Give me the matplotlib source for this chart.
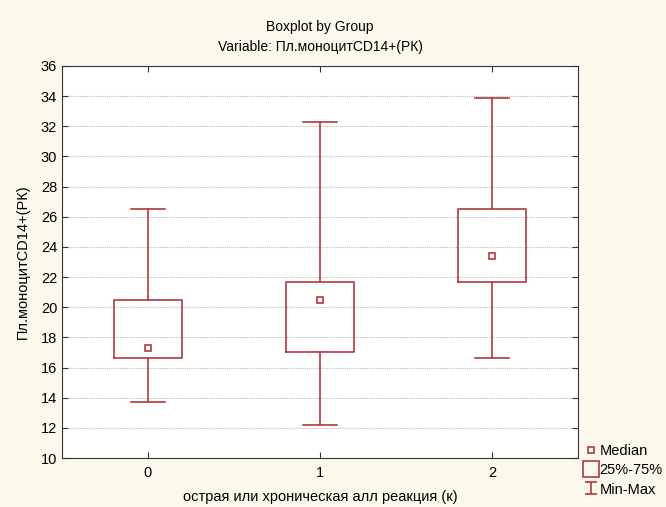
import matplotlib.pyplot as plt
from matplotlib.lines import Line2D
from matplotlib.path import Path

plt.rcParams['font.family'] = ['Liberation Sans', 'DejaVu Sans']

# Values
groups = ['0', '1', '2']
mins = [13.7, 12.2, 16.6]
q1s = [16.6, 17.0, 21.7]
medians = [17.3, 20.5, 23.4]
q3s = [20.5, 21.7, 26.5]
maxs = [26.5, 32.3, 33.9]

red = '#B03A3E'
bg = '#FCF8EC'

fig = plt.figure(figsize=(6.66, 5.07), dpi=100, facecolor=bg)
ax = fig.add_axes([62 / 666, 49 / 507, 516 / 666, 392 / 507])
ax.set_facecolor('white')

stats = []
for i in range(len(groups)):
    stats.append({'med': medians[i], 'q1': q1s[i], 'q3': q3s[i],
                  'whislo': mins[i], 'whishi': maxs[i], 'label': groups[i]})

positions = list(range(len(groups)))
ax.bxp(stats, positions=positions, widths=0.4, capwidths=0.2, showfliers=False,
       boxprops=dict(color=red, linewidth=1.2),
       whiskerprops=dict(color=red, linewidth=1.2),
       capprops=dict(color=red, linewidth=1.2),
       medianprops=dict(linewidth=0))
ax.plot(positions, medians, linestyle='none', marker='s', ms=5,
        mfc='white', mec=red, mew=1.2, zorder=5)

ax.set_xlim(-0.5, 2.5)
ax.set_ylim(10, 36)
ax.set_yticks(range(10, 37, 2))
ax.set_xticks(positions)
ax.set_xticklabels(groups)
ax.yaxis.grid(True, linestyle=(0, (1, 1)), color='#BBBBBB', linewidth=0.8)
ax.set_axisbelow(True)
ax.tick_params(direction='in', top=True, right=True, labelsize=10.5, length=4,
               color='#333333')
ax.tick_params(axis='x', pad=6)
for sp in ax.spines.values():
    sp.set_color('#333333')

ax.set_xlabel('острая или хроническая алл реакция (к)', fontsize=10.5, labelpad=7)
ax.set_ylabel('Пл.моноцитCD14+(РК)', fontsize=10.5, labelpad=8)
fig.text(320 / 666, 1 - 27 / 507, 'Boxplot by Group', ha='center', va='center', fontsize=10)
fig.text(320 / 666, 1 - 47 / 507, 'Variable: Пл.моноцитCD14+(РК)', ha='center',
         va='center', fontsize=10)

# legend
ibeam = Path([(-1, 1), (1, 1), (0, 1), (0, -1), (-1, -1), (1, -1)],
             [Path.MOVETO, Path.LINETO, Path.MOVETO, Path.LINETO, Path.MOVETO, Path.LINETO])
handles = [
    Line2D([], [], linestyle='none', marker='s', ms=5, mfc='none', mec=red, mew=1.2),
    Line2D([], [], linestyle='none', marker='s', ms=11, mfc='none', mec=red, mew=1.2),
    Line2D([], [], linestyle='none', marker=ibeam, ms=8, mfc='none', mec=red, mew=1.2),
]
fig.legend(handles, ['Median', '25%-75%', 'Min-Max'], loc='upper left',
           bbox_to_anchor=(579 / 666, 1 - 437 / 507), frameon=False, fontsize=10.5,
           handlelength=0.7, handletextpad=0.2, labelspacing=0.35, borderpad=0)

fig.savefig('out.png', dpi=100, facecolor=bg)
